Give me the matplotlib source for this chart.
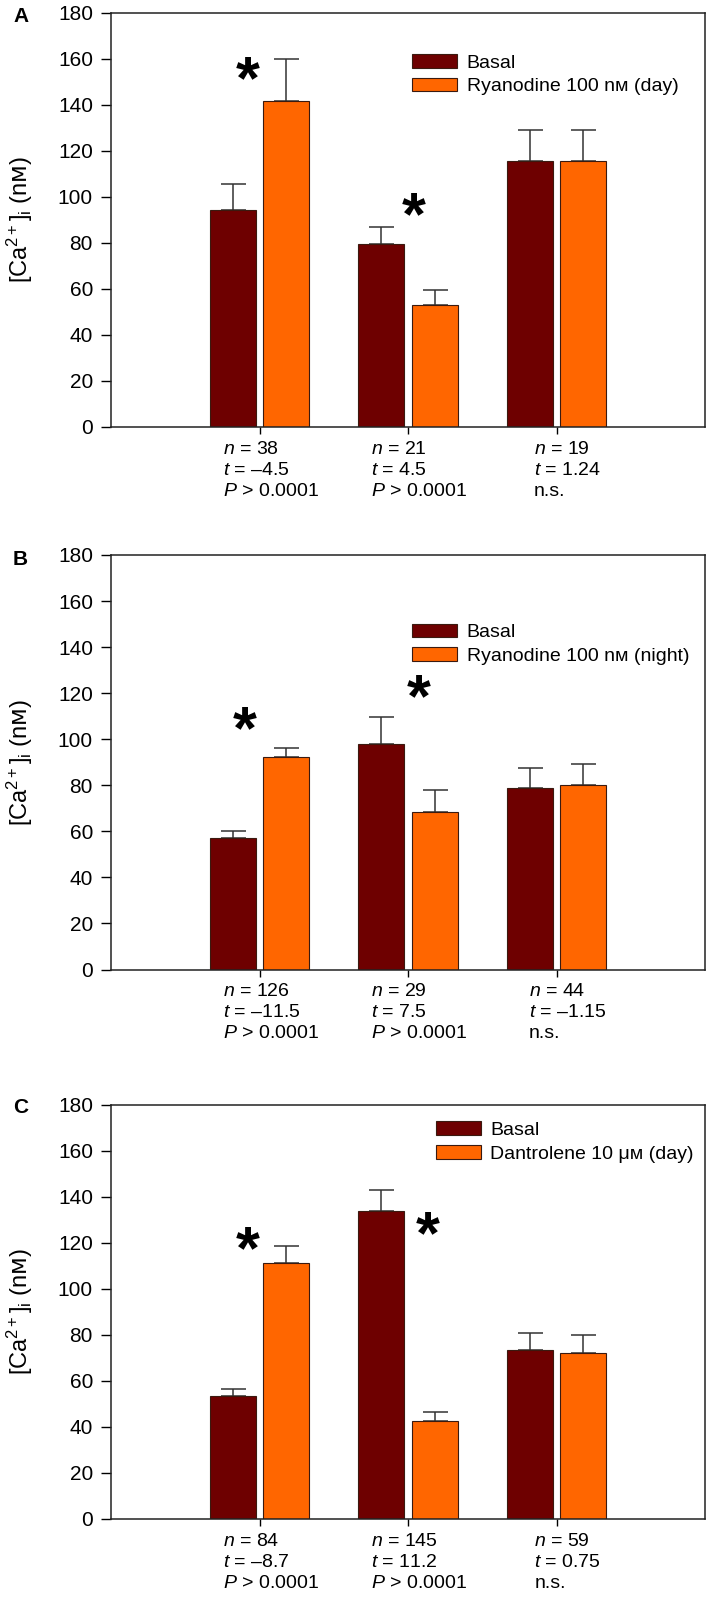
import matplotlib
matplotlib.use('Agg')
import matplotlib.pyplot as plt
import numpy as np

plt.rcParams['font.family'] = ['Liberation Sans', 'DejaVu Sans']
plt.rcParams['mathtext.fontset'] = 'custom'
plt.rcParams['mathtext.rm'] = 'Liberation Sans'
plt.rcParams['mathtext.it'] = 'Liberation Sans:italic'
plt.rcParams['mathtext.sf'] = 'DejaVu Sans'

# group positions on x
groups = np.array([1, 2, 3])

# Panel A - ryanodine 100 nM (day)
basal_a = [94.4, 79.6, 115.3]
basal_a_err = [11.3, 7.3, 13.5]
ryan_day = [141.4, 52.9, 115.3]
ryan_day_err = [18.6, 6.6, 13.5]
n_a = ['38', '21', '19']
t_a = ['–4.5', '4.5', '1.24']
p_a = ['0.0001', '0.0001', 'n.s.']
star_x_a = [0.92, 2.04]
star_y_a = [158, 99]

# Panel B - ryanodine 100 nM (night)
basal_b = [57.2, 98.1, 78.8]
basal_b_err = [3.1, 11.5, 8.8]
ryan_night = [92.4, 68.2, 80.1]
ryan_night_err = [3.6, 9.7, 9.2]
n_b = ['126', '29', '44']
t_b = ['–11.5', '7.5', '–1.15']
p_b = ['0.0001', '0.0001', 'n.s.']
star_x_b = [0.90, 2.07]
star_y_b = [111, 125]

# Panel C - dantrolene 10 uM (day)
basal_c = [53.4, 133.7, 73.2]
basal_c_err = [3.2, 9.3, 7.4]
dant_day = [111.1, 42.5, 72.2]
dant_day_err = [7.4, 4.0, 7.5]
n_c = ['84', '145', '59']
t_c = ['–8.7', '11.2', '0.75']
p_c = ['0.0001', '0.0001', 'n.s.']
star_x_c = [0.92, 2.13]
star_y_c = [124, 130.5]

basal_color = '#6e0000'
treat_color = '#ff6600'
edge_color = '#3a1a10'


def stat_label(n, t, p):
    if p == 'n.s.':
        last = 'n.s.'
    else:
        last = r'$\mathit{P}$ > ' + p
    return r'$\mathit{n}$ = ' + n + '\n' + r'$\mathit{t}$ = ' + t + '\n' + last


def draw_panel(ax, basal, basal_err, treat, treat_err, treat_name,
               n, t, p, star_x, star_y, leg_pos):
    w = 0.31
    off = 0.18
    ax.bar(groups - off, basal, w, color=basal_color, edgecolor=edge_color,
           linewidth=0.8, label='Basal', zorder=2)
    ax.bar(groups + off, treat, w, color=treat_color, edgecolor=edge_color,
           linewidth=0.8, label=treat_name, zorder=2)
    zeros = np.zeros(len(groups))
    ax.errorbar(groups - off, basal, yerr=[zeros, basal_err], fmt='none',
                ecolor='#333333', elinewidth=1.1, capsize=9, capthick=1.1, zorder=1)
    ax.errorbar(groups + off, treat, yerr=[zeros, treat_err], fmt='none',
                ecolor='#333333', elinewidth=1.1, capsize=9, capthick=1.1, zorder=1)

    for sx, sy in zip(star_x, star_y):
        ax.annotate('*', (sx, sy), xytext=(0, -25), textcoords='offset points',
                    ha='center', va='baseline', fontsize=44, fontweight='bold')

    for g, nn, tt, pp in zip(groups, n, t, p):
        ax.annotate(stat_label(nn, tt, pp), (g, 0), xycoords=('data', 'axes fraction'),
                    xytext=(8, -10), textcoords='offset points', ha='center', va='top',
                    multialignment='left', fontsize=14, linespacing=1.3)

    ax.set_xlim(0, 4)
    ax.set_ylim(0, 180)
    ax.set_yticks(range(0, 181, 20))
    ax.set_xticks(groups)
    ax.set_xticklabels([])
    ax.tick_params(axis='y', direction='out', length=7, width=1, labelsize=15, pad=6)
    ax.tick_params(axis='x', direction='out', length=5, width=1)
    for s in ax.spines.values():
        s.set_linewidth(1.1)
        s.set_color('#222222')
    ax.set_ylabel(r'[Ca$^{\mathregular{2+}}$]$_{\mathregular{i}}$ (n$\mathsf{ᴍ}$)', fontsize=17)
    ax.yaxis.set_label_coords(-0.128, 0.5)
    ax.legend(loc='upper left', bbox_to_anchor=leg_pos, frameon=False, fontsize=14,
              handlelength=2.3, handleheight=0.7, handletextpad=0.5, labelspacing=0.3,
              borderpad=0, borderaxespad=0)


fig = plt.figure(figsize=(7.09, 15.97), dpi=100)
left = 111 / 709
width = 594 / 709
height = 414.5 / 1597

axA = fig.add_axes([left, 1 - 427 / 1597, width, height])
axB = fig.add_axes([left, 1 - 969.5 / 1597, width, height])
axC = fig.add_axes([left, 1 - 1519 / 1597, width, height])

draw_panel(axA, basal_a, basal_a_err, ryan_day, ryan_day_err, 'Ryanodine 100 nᴍ (day)',
           n_a, t_a, p_a, star_x_a, star_y_a, (0.507, 0.899))
draw_panel(axB, basal_b, basal_b_err, ryan_night, ryan_night_err, 'Ryanodine 100 nᴍ (night)',
           n_b, t_b, p_b, star_x_b, star_y_b, (0.507, 0.834))
draw_panel(axC, basal_c, basal_c_err, dant_day, dant_day_err, 'Dantrolene 10 μᴍ (day)',
           n_c, t_c, p_c, star_x_c, star_y_c, (0.547, 0.959))

for letter, ytop in zip(['A', 'B', 'C'], [7, 550, 1098]):
    fig.text(13 / 709, 1 - ytop / 1597, letter, fontsize=15, fontweight='bold', va='top', ha='left')

fig.savefig('out.png', dpi=100)
